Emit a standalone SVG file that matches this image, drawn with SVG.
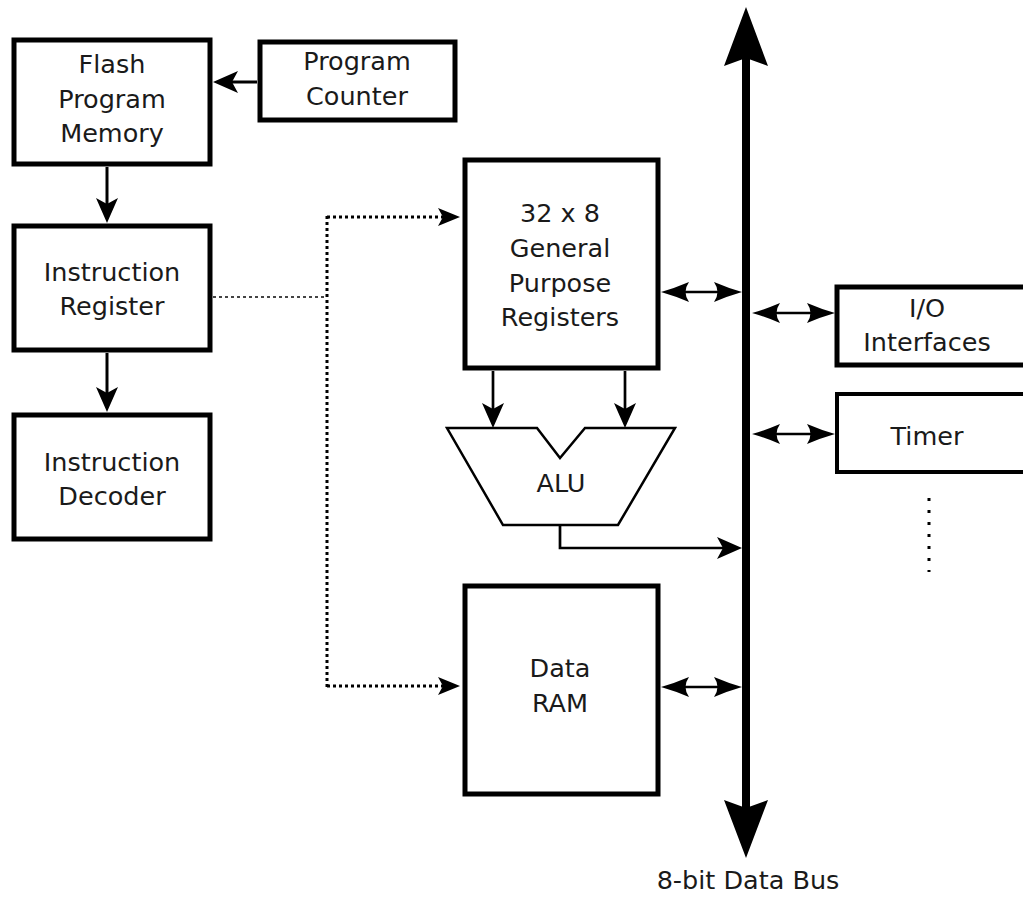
<svg xmlns="http://www.w3.org/2000/svg" width="1023" height="900" viewBox="0 0 1023 900">
<style>
.box{fill:#fff;stroke:#000;stroke-width:5}
.t{font-family:"DejaVu Sans","Liberation Sans",sans-serif;font-size:25.5px;fill:#1a1a1a;text-anchor:middle}
.ar{fill:none;stroke:#000;stroke-width:3}
.bd{fill:none;stroke:#000;stroke-width:2.7}
.dot{fill:none;stroke:#000;stroke-width:3;stroke-dasharray:3 3}
.dot2{fill:none;stroke:#444;stroke-width:2;stroke-dasharray:3 3}
</style>
<defs>
<marker id="a" viewBox="-28 -12 30 24" markerWidth="30" markerHeight="24" refX="-8" refY="0" orient="auto-start-reverse" markerUnits="userSpaceOnUse"><path d="M0,0 L-25,-11 L-19,0 L-25,11 Z" fill="#000"/></marker>
<marker id="b" viewBox="-30 -11 32 22" markerWidth="32" markerHeight="22" refX="-8" refY="0" orient="auto-start-reverse" markerUnits="userSpaceOnUse"><path d="M0,0 Q-14,-4 -28,-10 Q-21,0 -28,10 Q-14,4 0,0 Z" fill="#000"/></marker>
<marker id="d" viewBox="-24 -10 26 20" markerWidth="26" markerHeight="20" refX="-8" refY="0" orient="auto" markerUnits="userSpaceOnUse"><path d="M0,0 L-22,-9 L-17,0 L-22,9 Z" fill="#000"/></marker>
</defs>
<g id="connectors">
<path class="ar" d="M257,82 H221" marker-end="url(#a)"/>
<path class="ar" d="M107,167 V215" marker-end="url(#a)"/>
<path class="ar" d="M107,353 V404" marker-end="url(#a)"/>
<path class="dot2" d="M213,297 H327"/>
<path class="dot" d="M327,216 V687"/>
<path class="dot" d="M327,217 H452" marker-end="url(#d)"/>
<path class="dot" d="M327,686 H452" marker-end="url(#d)"/>
<path class="bd" d="M493,371 V420" marker-end="url(#a)"/>
<path class="bd" d="M625,371 V420" marker-end="url(#a)"/>
<path class="bd" d="M560,526 V548 H734" marker-end="url(#a)"/>
<path class="bd" d="M669,292 H734" marker-start="url(#b)" marker-end="url(#b)"/>
<path class="bd" d="M669,687 H734" marker-start="url(#b)" marker-end="url(#b)"/>
<path class="bd" d="M760,313 H827" marker-start="url(#b)" marker-end="url(#b)"/>
<path class="bd" d="M760,434 H827" marker-start="url(#b)" marker-end="url(#b)"/>
<path fill="none" stroke="#000" stroke-width="3" stroke-dasharray="3 9" d="M929,498 V572"/>
</g>
<g id="bus">
<line x1="746" y1="55" x2="746" y2="810" stroke="#000" stroke-width="8"/>
<path d="M746,7 L768,66 L746,58 L724,66 Z" fill="#000"/>
<path d="M746,858 L768,800 L746,808 L724,800 Z" fill="#000"/>
<text class="t" x="748" y="889">8-bit Data Bus</text>
</g>
<g id="flash">
<rect class="box" x="14" y="40" width="196" height="124"/>
<text class="t" x="112" y="73">Flash</text>
<text class="t" x="112" y="108">Program</text>
<text class="t" x="112" y="142">Memory</text>
</g>
<g id="pc">
<rect class="box" x="260" y="42" width="195" height="78"/>
<text class="t" x="357" y="70">Program</text>
<text class="t" x="357" y="105">Counter</text>
</g>
<g id="ir">
<rect class="box" x="14" y="226" width="196" height="124"/>
<text class="t" x="112" y="281">Instruction</text>
<text class="t" x="112" y="315">Register</text>
</g>
<g id="id">
<rect class="box" x="14" y="415" width="196" height="124"/>
<text class="t" x="112" y="471">Instruction</text>
<text class="t" x="112" y="505">Decoder</text>
</g>
<g id="regs">
<rect class="box" x="465" y="160" width="193" height="208"/>
<text class="t" x="560" y="222">32 x 8</text>
<text class="t" x="560" y="257">General</text>
<text class="t" x="560" y="292">Purpose</text>
<text class="t" x="560" y="326">Registers</text>
</g>
<g id="alu">
<polygon points="447,428 537,428 560,458 585,428 675,428 618,525 503,525" fill="#fff" stroke="#000" stroke-width="2.5"/>
<text class="t" x="561" y="492">ALU</text>
</g>
<g id="ram">
<rect class="box" x="465" y="586" width="193" height="208"/>
<text class="t" x="560" y="677">Data</text>
<text class="t" x="560" y="712">RAM</text>
</g>
<g id="io">
<rect class="box" x="837" y="287" width="200" height="78"/>
<text class="t" x="927" y="317">I/O</text>
<text class="t" x="927" y="351">Interfaces</text>
</g>
<g id="timer">
<rect class="box" x="837" y="394" width="200" height="78" style="stroke-width:4"/>
<text class="t" x="927" y="445">Timer</text>
</g>
</svg>
